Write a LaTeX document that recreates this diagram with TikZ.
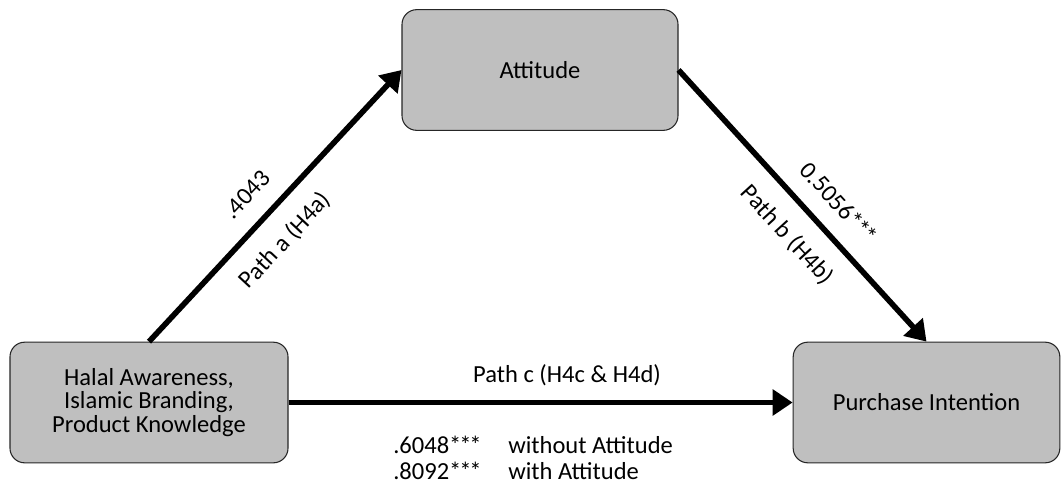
\documentclass[tikz,border=0pt]{standalone}
\usepackage{fontspec}
\setmainfont{Carlito}
\usetikzlibrary{arrows.meta}

\newcommand{\stars}{*\kern-1.6pt*\kern-1.6pt*}

\tikzset{
  var/.style={draw=black!85,fill=black!25,line width=0.8pt,rounded corners=11pt,
    minimum height=90.5pt,align=center,inner sep=0pt},
  link/.style={line width=4.2pt,-{Triangle[length=15pt,width=19pt]}},
  lbl/.style={sloped,inner sep=2pt}
}

\begin{document}
\begin{tikzpicture}[x=0.75pt,y=-0.75pt,font=\fontsize{18.4}{17.6}\selectfont]
    \useasboundingbox (0,0) rectangle (1062,489);
    \node[var,minimum width=207pt] (att) at (540,70) {Attitude} ;
    \node[var,minimum width=208.5pt] (hal) at (149,402.5)
      {Halal Awareness,\\Islamic Branding,\\Product Knowledge} ;
    \node[var,minimum width=200pt] (pi) at (926.5,402.5) {Purchase Intention} ;
    \draw[link] (hal.north) -- (att.west)
      node[lbl,pos=0.47,above=11pt] (ea) {.4043}
      node[lbl,pos=0.45,below=11pt] (pa) {Path a (H4a)} ;
    \draw[link] (att.east) -- (pi.north)
      node[lbl,pos=0.56,above=11pt] (eb) {0.5056\stars}
      node[lbl,pos=0.53,below=11pt] (pb) {Path b (H4b)} ;
    \draw[link] (hal.east) -- (pi.west) ;
    \node (pc) at (567,375) {Path c (H4c \& H4d)} ;
    \node[inner sep=0pt,anchor=west] (ec) at (393,461)
      {\begin{tabular}{@{}l@{\hspace{20pt}}l@{}}
        .6048\stars & without Attitude\\[1pt]
        .8092\stars & with Attitude
       \end{tabular}} ;
  \end{tikzpicture}
\end{document}
